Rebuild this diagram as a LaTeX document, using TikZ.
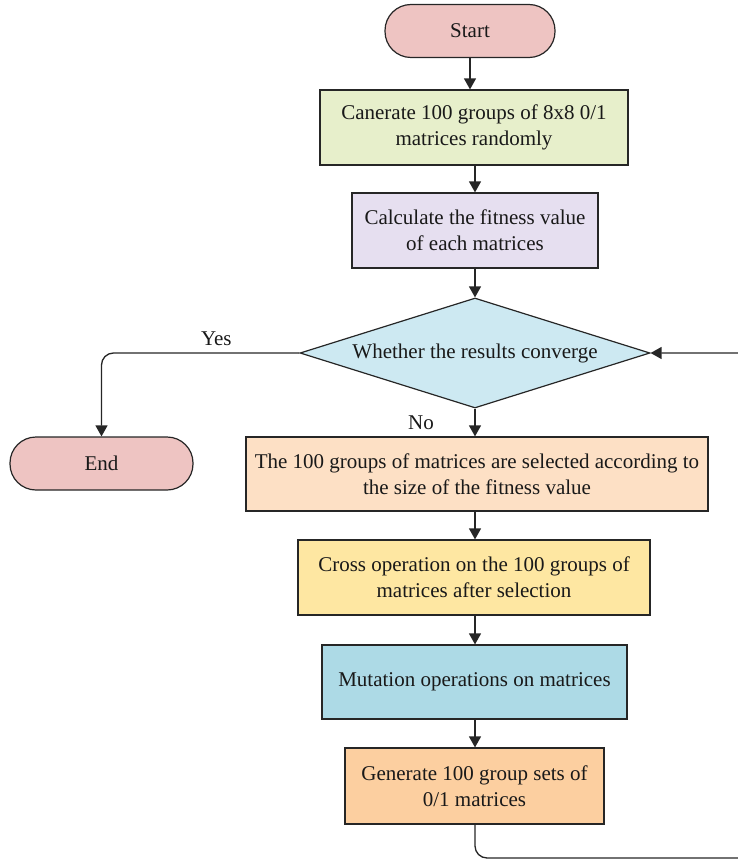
\documentclass[tikz,border=0pt]{standalone}
\usepackage{fontspec}
\setmainfont{Liberation Serif}
\usetikzlibrary{shapes.geometric,arrows.meta}

\definecolor{termpink}{HTML}{EEC4C2}
\definecolor{gengreen}{HTML}{E7EFCB}
\definecolor{fitpurple}{HTML}{E6DFF0}
\definecolor{convblue}{HTML}{CDE9F2}
\definecolor{selorange}{HTML}{FDE0C5}
\definecolor{crossyellow}{HTML}{FEE7A2}
\definecolor{mutblue}{HTML}{ADDAE6}
\definecolor{neworange}{HTML}{FCCFA0}

\tikzset{
    box/.style={draw=black!85, line width=1.2pt, align=center, inner sep=0pt,
        text=black!90, font=\fontsize{21}{26}\selectfont},
    term/.style={box, rounded corners=26pt, minimum height=53pt},
    line/.style={draw=black!85, line width=1.3pt},
    arr/.style={line, -{Triangle[length=11pt,width=12pt]}},
    lbl/.style={text=black!90, font=\fontsize{21}{24}\selectfont},
}

\begin{document}
\begin{tikzpicture}[x=1pt,y=-1pt]
    %page frame
    \useasboundingbox (0,0) rectangle (738,861);

    %blocks
    \node[term, fill=termpink, minimum width=170pt] (start) at (470,31) {Start};
    \node[box, fill=gengreen, minimum width=308pt, minimum height=75pt] (gen) at (474,127.5)
        {Canerate 100 groups of 8x8 0/1\\matrices randomly};
    \node[box, fill=fitpurple, minimum width=246pt, minimum height=75pt] (fit) at (475,230.5)
        {Calculate the fitness value\\of each matrices};
    \node[box, shape=diamond, aspect=3.2, fill=convblue, minimum width=350pt, minimum height=110pt] (conv) at (475,353)
        {Whether the results converge};
    \node[term, fill=termpink, minimum width=183pt] (end) at (101.5,463.5) {End};
    \node[box, fill=selorange, minimum width=462pt, minimum height=74pt] (sel) at (477,474)
        {The 100 groups of matrices are selected according to\\the size of the fitness value};
    \node[box, fill=crossyellow, minimum width=352pt, minimum height=75pt] (cross) at (474,577.5)
        {Cross operation on the 100 groups of\\matrices after selection};
    \node[box, fill=mutblue, minimum width=305pt, minimum height=74pt] (mut) at (474.5,682)
        {Mutation operations on matrices};
    \node[box, fill=neworange, minimum width=259pt, minimum height=76pt] (newgen) at (474.5,786)
        {Generate 100 group sets of\\0/1 matrices};

    %connectors
    \draw[arr] (start.south) -- (start.south |- gen.north);
    \draw[arr] (fit.north |- gen.south) -- (fit.north);
    \draw[arr] (fit.south) -- (conv.north);
    \draw[arr] (conv.south) -- (conv.south |- sel.north);
    \draw[arr] (conv.south |- sel.south) -- (conv.south |- cross.north);
    \draw[arr] (conv.south |- cross.south) -- (conv.south |- mut.north);
    \draw[arr] (conv.south |- mut.south) -- (conv.south |- newgen.north);
    \draw[arr, rounded corners=12pt] (conv.west) -| (end.north) node[lbl, pos=0.21, above, yshift=3pt]{Yes};
    \node[lbl] (no) at (421,423) {No};
    \coordinate (back) at (770,858);
    \draw[arr, rounded corners=12pt] (conv.south |- newgen.south) |- (back) |- (conv.east);
\end{tikzpicture}
\end{document}
